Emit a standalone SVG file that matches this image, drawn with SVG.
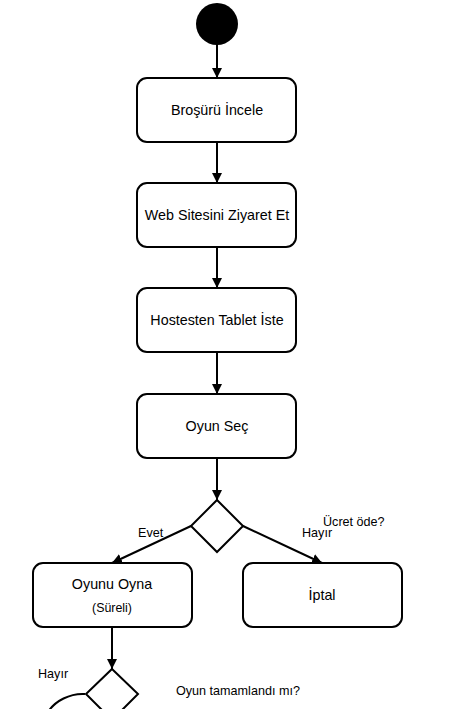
<svg xmlns="http://www.w3.org/2000/svg" width="465" height="709" viewBox="0 0 465 709">
<style>
.box{fill:#fff;stroke:#000;stroke-width:2}
.dia{fill:#fff;stroke:#000;stroke-width:2}
.t{font-family:"Liberation Sans",Arial,sans-serif;font-size:14.3px;fill:#000;text-anchor:middle}
.s{font-family:"Liberation Sans",Arial,sans-serif;font-size:12.6px;fill:#000}
.c{fill:none;stroke:#000;stroke-width:2}
</style>
<defs>
<marker id="ah" viewBox="0 0 10 10" refX="10" refY="5" markerWidth="5" markerHeight="5" orient="auto" markerUnits="strokeWidth">
<path d="M0,0 L10,5 L0,10 z" fill="#000"/>
</marker>
</defs>
<rect width="465" height="709" fill="#fff"/>
<g id="connectors">
<line class="c" x1="217" y1="45" x2="217" y2="78" marker-end="url(#ah)"/>
<line class="c" x1="217" y1="142" x2="217" y2="183" marker-end="url(#ah)"/>
<line class="c" x1="217" y1="247" x2="217" y2="288" marker-end="url(#ah)"/>
<line class="c" x1="217" y1="352" x2="217" y2="394" marker-end="url(#ah)"/>
<line class="c" x1="217" y1="458" x2="217" y2="500" marker-end="url(#ah)"/>
<line class="c" x1="191" y1="526" x2="112" y2="563" marker-end="url(#ah)"/>
<line class="c" x1="243" y1="526" x2="322" y2="563" marker-end="url(#ah)"/>
<line class="c" x1="112" y1="627" x2="112" y2="669" marker-end="url(#ah)"/>
<path class="c" d="M85,694 C70,693 55,701 48,712"/>
<text class="s" x="138" y="537">Evet</text>
<text class="s" x="302" y="537">Hayır</text>
<text class="s" x="323" y="526">Ücret öde?</text>
<text class="s" x="38" y="678">Hayır</text>
<text class="s" x="176" y="695">Oyun tamamlandı mı?</text>
</g>
<g id="start"><circle cx="217" cy="24" r="21" fill="#000"/></g>
<g id="n1"><rect class="box" x="137" y="78" width="159" height="64" rx="10"/><text class="t" x="217" y="115">Broşürü İncele</text></g>
<g id="n2"><rect class="box" x="137" y="183" width="159" height="64" rx="10"/><text class="t" x="217" y="220">Web Sitesini Ziyaret Et</text></g>
<g id="n3"><rect class="box" x="137" y="288" width="159" height="64" rx="10"/><text class="t" x="217" y="325">Hostesten Tablet İste</text></g>
<g id="n4"><rect class="box" x="137" y="394" width="159" height="64" rx="10"/><text class="t" x="217" y="431">Oyun Seç</text></g>
<g id="d1"><polygon class="dia" points="217,500 243,526 217,552 191,526"/></g>
<g id="n5"><rect class="box" x="33" y="563" width="159" height="64" rx="10"/><text class="t" x="112" y="589">Oyunu Oyna</text><text class="t" x="112" y="612" style="font-size:12.4px">(Süreli)</text></g>
<g id="n6"><rect class="box" x="243" y="563" width="159" height="64" rx="10"/><text class="t" x="322" y="600">İptal</text></g>
<g id="d2"><polygon class="dia" points="112,669 138,694 112,720 86,694"/></g>
</svg>
